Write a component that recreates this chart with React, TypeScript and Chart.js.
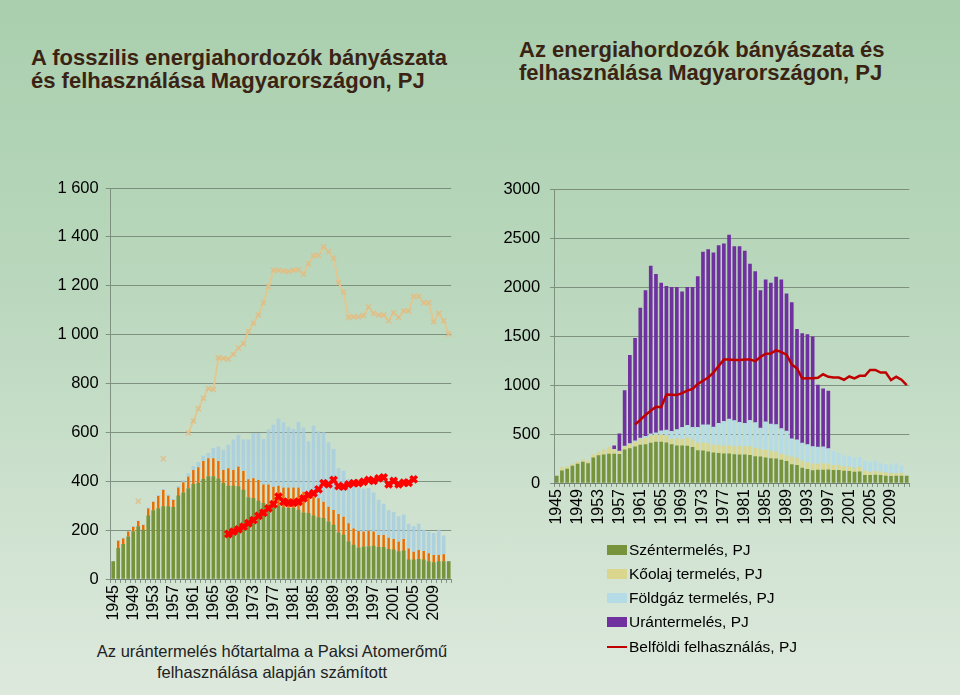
import { useEffect, useRef } from 'react';
import { Chart, registerables } from 'chart.js';
Chart.register(...registerables);

const years = ['1945','1946','1947','1948','1949','1950','1951','1952','1953','1954',
  '1955','1956','1957','1958','1959','1960','1961','1962','1963','1964',
  '1965','1966','1967','1968','1969','1970','1971','1972','1973','1974',
  '1975','1976','1977','1978','1979','1980','1981','1982','1983','1984',
  '1985','1986','1987','1988','1989','1990','1991','1992','1993','1994',
  '1995','1996','1997','1998','1999','2000','2001','2002','2003','2004',
  '2005','2006','2007','2008','2009','2010','2011','2012'];

const coal = [71,125,142,173,194,214,200,258,280,288,
  296,296,293,340,353,370,387,392,408,419,
  419,410,392,380,380,378,364,333,330,319,
  310,303,299,299,292,289,289,282,271,269,
  258,251,248,234,221,189,180,153,139,128,
  132,133,135,130,130,121,119,112,115,78,
  78,81,78,71,67,71,71,71];

const oil = [0,32,24,21,20,23,21,31,36,52,
  68,45,30,34,43,49,59,65,75,75,
  75,73,54,73,66,82,78,75,82,86,
  77,84,79,83,82,85,85,92,86,75,
  79,79,68,62,61,77,75,75,68,68,
  62,65,59,50,50,48,45,41,49,47,
  34,38,37,34,31,27,30,0];

const gas = [0,1,1,1,1,1,2,2,2,2,
  3,3,3,5,8,12,15,20,20,20,
  41,58,82,95,123,129,127,161,184,191,
  185,223,252,273,266,247,238,267,262,218,
  289,273,283,262,249,187,187,180,187,178,
  174,173,159,143,127,111,109,102,99,100,
  102,106,85,87,89,102,76,0];

const uranium = [null,null,null,null,null,null,null,null,null,null,
  null,36,177,568,903,1049,1329,1493,1717,1623,
  1512,1472,1475,1455,1388,1414,1434,1544,1767,1794,
  1785,1820,1817,1882,1780,1799,1761,1599,1544,1408,
  1454,1444,1508,1522,1406,1394,1131,1122,1126,1123,
  635,592,587,null,null,null,null,null,null,null,
  null,null,null,null,null,null,null,null];

const consumption = [null,null,null,null,null,318,null,null,null,null,
  492,null,null,null,null,597,647,697,740,780,
  775,905,903,900,920,945,963,1013,1047,1080,
  1130,1197,1263,1263,1260,1258,1263,1265,1247,1290,
  1323,1325,1360,1340,1313,1213,1173,1070,1073,1073,
  1078,1113,1087,1080,1080,1057,1090,1070,1097,1097,
  1157,1157,1130,1130,1053,1087,1057,1003];

const redX = [null,null,null,null,null,null,null,null,null,null,
  null,null,null,null,null,null,null,null,null,null,
  null,null,null,184,194,203,214,228,241,258,
  271,289,306,337,316,312,312,316,330,344,
  351,367,392,387,405,380,378,387,392,392,
  398,405,402,412,416,387,401,387,394,394,
  408,null,null,null,null,null,null,null];

const leftTicks = [0,200,400,600,800,1000,1200,1400,1600];
const rightTicks = [0,500,1000,1500,2000,2500,3000];

const FONT = 'Liberation Sans, Arial, sans-serif';
const GRID = 'rgba(105,120,105,0.75)';

function fmtSpace(v: number) {
  if (v >= 1000) return Math.floor(v / 1000) + ' ' + String(v % 1000).padStart(3, '0');
  return String(v);
}

function xScale(height: number) {
  return {
    stacked: true,
    offset: true,
    grid: { display: true, drawOnChartArea: false, drawTicks: true, tickLength: 4, color: GRID, offset: true },
    border: { display: true, color: GRID },
    ticks: {
      autoSkip: false, maxRotation: 90, minRotation: 90, padding: 2, color: '#000',
      font: { family: FONT, size: 16 },
      callback: (_v: any, i: number) => (i % 4 === 0 ? years[i] : ''),
    },
    afterFit: (s: any) => { s.height = height; },
  };
}

function yScale(max: number, ticks: number[], width: number, pad: number, tl: number, fmt: (v: number) => string) {
  return {
    stacked: true,
    min: 0,
    max,
    grid: { color: GRID, tickLength: tl, lineWidth: 1 },
    border: { display: true, color: GRID },
    afterBuildTicks: (s: any) => { s.ticks = ticks.map((v) => ({ value: v })); },
    ticks: { padding: pad, color: '#000', font: { family: FONT, size: 16.5 }, callback: (v: any) => fmt(Number(v)) },
    afterFit: (s: any) => { s.width = width; },
  };
}

export default function App() {
  const leftRef = useRef<HTMLCanvasElement>(null);
  const rightRef = useRef<HTMLCanvasElement>(null);

  useEffect(() => {
    const left = new Chart(leftRef.current!, {
      type: 'bar',
      data: {
        labels: years,
        datasets: [
          { type: 'line', label: 'x', data: redX, borderColor: '#FF0000', borderWidth: 2, pointStyle: 'crossRot',
            pointRadius: 4.5, pointBorderWidth: 3.5, pointBorderColor: '#FF0000', pointBackgroundColor: '#FF0000',
            stack: 'rx', order: -2, spanGaps: false } as any,
          { type: 'line', label: 'Belföldi felhasználás', data: consumption, borderColor: 'rgba(228,198,142,0.95)',
            borderWidth: 2, pointStyle: 'crossRot', pointRadius: 3.5, pointBorderWidth: 1.5,
            pointBorderColor: 'rgba(222,190,135,0.95)', stack: 'cons', order: -1, spanGaps: false } as any,
          { label: 'Széntermelés', data: coal, backgroundColor: '#77933C', barThickness: 3, stack: 'p', order: 1 },
          { label: 'Kőolaj', data: oil, backgroundColor: '#E46C0A', borderColor: '#F2E2A0', borderWidth: { left: 0.7, right: 0.7, top: 0, bottom: 0 },
            borderSkipped: false, barThickness: 3.2, stack: 'p', order: 1 } as any,
          { label: 'Földgáz', data: gas, backgroundColor: 'rgba(168,206,224,0.85)', barThickness: 3, stack: 'p', order: 1 },
        ],
      },
      options: {
        responsive: false,
        maintainAspectRatio: false,
        animation: false,
        events: [],
        layout: { padding: { top: 18, right: 9, bottom: 0, left: 0 } },
        plugins: { legend: { display: false }, tooltip: { enabled: false } },
        scales: {
          x: xScale(61) as any,
          y: yScale(1600, leftTicks, 110.7, 7, 5, fmtSpace) as any,
        },
      },
    });

    const right = new Chart(rightRef.current!, {
      type: 'bar',
      data: {
        labels: years,
        datasets: [
          { type: 'line', label: 'Belföldi felhasználás, PJ', data: consumption, borderColor: '#C00000', borderWidth: 2.5,
            pointRadius: 0, stack: 'cons', order: -1, spanGaps: false } as any,
          { label: 'Széntermelés, PJ', data: coal, backgroundColor: '#77933C', barThickness: 3, stack: 'p', order: 1 },
          { label: 'Kőolaj termelés, PJ', data: oil, backgroundColor: '#DAD68E', barThickness: 3, stack: 'p', order: 1 },
          { label: 'Földgáz termelés, PJ', data: gas, backgroundColor: '#B5DBE6', barThickness: 3, stack: 'p', order: 1 },
          { label: 'Urántermelés, PJ', data: uranium, backgroundColor: '#7030A0', barThickness: 3, stack: 'p', order: 1 },
        ],
      },
      options: {
        responsive: false,
        maintainAspectRatio: false,
        animation: false,
        events: [],
        layout: { padding: { top: 13, right: 20.7, bottom: 0, left: 0 } },
        plugins: { legend: { display: false }, tooltip: { enabled: false } },
        scales: {
          x: xScale(57) as any,
          y: yScale(3000, rightTicks, 84.1, 10, 4, (v) => String(v)) as any,
        },
      },
    });

    return () => { left.destroy(); right.destroy(); };
  }, []);

  const legendItems = [
    { label: 'Széntermelés, PJ', color: '#77933C', line: false },
    { label: 'Kőolaj termelés, PJ', color: '#DAD68E', line: false },
    { label: 'Földgáz termelés, PJ', color: '#B5DBE6', line: false },
    { label: 'Urántermelés, PJ', color: '#7030A0', line: false },
    { label: 'Belföldi felhasználás, PJ', color: '#C00000', line: true },
  ];
  const legendY = [550, 574.3, 598.3, 621.7, 646.7];

  return (
    <div style={{ position: 'fixed', left: 0, top: 0, width: 960, height: 695, overflow: 'hidden',
      background: 'linear-gradient(to bottom, #a9cfae 0%, #b9d7bc 40%, #cfe2d0 75%, #dde9dd 100%)', fontFamily: FONT }}>
      <div style={{ position: 'absolute', left: 31, top: 46, fontSize: 22, fontWeight: 'bold', lineHeight: '23px', color: '#3B2314', whiteSpace: 'nowrap' }}>
        A fosszilis energiahordozók bányászata<br />és felhasználása Magyarországon, PJ
      </div>
      <div style={{ position: 'absolute', left: 519, top: 37.5, fontSize: 22, fontWeight: 'bold', lineHeight: '23px', color: '#3B2314', whiteSpace: 'nowrap' }}>
        Az energiahordozók bányászata és<br />felhasználása Magyarországon, PJ
      </div>
      <canvas ref={leftRef} width={470} height={470} style={{ position: 'absolute', left: 0, top: 170, width: 470, height: 470 }} />
      <canvas ref={rightRef} width={460} height={370} style={{ position: 'absolute', left: 470, top: 170, width: 460, height: 370 }} />
      <div style={{ position: 'absolute', left: 72, top: 641, width: 400, textAlign: 'center', fontSize: 16.5, lineHeight: '21.3px', color: '#222' }}>
        Az urántermelés hőtartalma a Paksi Atomerőmű<br />felhasználása alapján számított
      </div>
      {legendItems.map((it, i) => (
        <div key={it.label} style={{ position: 'absolute', left: 607, top: legendY[i] - 11, height: 22, display: 'flex', alignItems: 'center', whiteSpace: 'nowrap' }}>
          <div style={{ width: 20, height: it.line ? 2 : 10, background: it.color, marginRight: 2 }} />
          <span style={{ fontSize: 15.5, color: '#000' }}>{it.label}</span>
        </div>
      ))}
    </div>
  );
}
